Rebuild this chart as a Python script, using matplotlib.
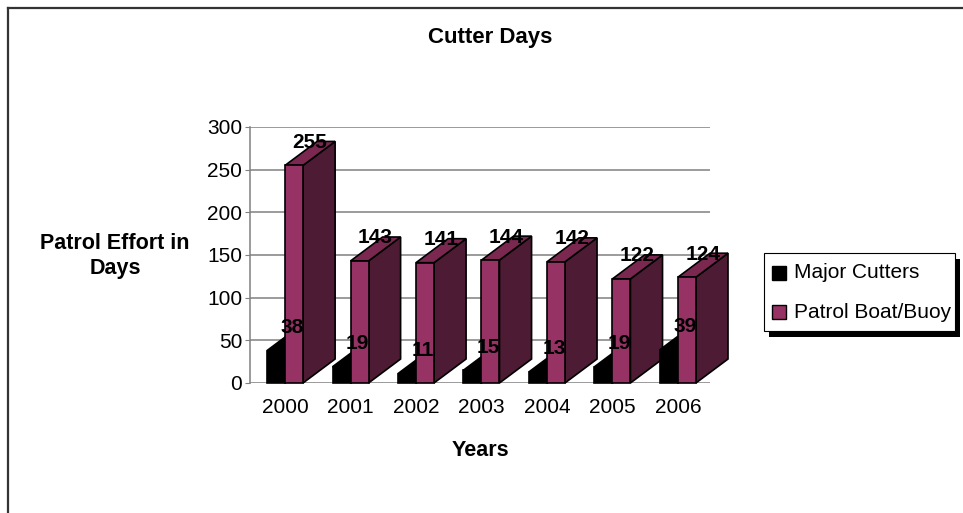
import matplotlib.pyplot as plt
from matplotlib.patches import Polygon, Rectangle
from matplotlib.lines import Line2D

plt.rcParams['font.family'] = ['Liberation Sans', 'DejaVu Sans']

years = ['2000', '2001', '2002', '2003', '2004', '2005', '2006']
major_cutters = [38, 19, 11, 15, 13, 19, 39]
patrol_boat = [255, 143, 141, 144, 142, 122, 124]

W, H = 963, 513
def fx(px):
    return px / W
def fy(py):
    return 1 - py / H

fig = plt.figure(figsize=(W / 100, H / 100), dpi=100)
fig.patch.set_facecolor('white')

# plot area (pixels): x 250..710, y 127..383
ax = fig.add_axes([fx(250), fy(383), fx(710) - fx(250), fy(127) - fy(383)])
ax.set_xlim(-0.535, 6.49)
ax.set_ylim(0, 300)
ax.set_yticks(range(0, 301, 50))
ax.set_xticks(range(len(years)))
ax.set_xticklabels(years)
ax.grid(axis='y', color='#808080', linewidth=1.1)
ax.set_axisbelow(True)
for s in ['top', 'right', 'bottom']:
    ax.spines[s].set_visible(False)
ax.spines['left'].set_color('#808080')
ax.spines['left'].set_linewidth(1.1)
ax.tick_params(axis='y', direction='out', length=3.5, color='#808080',
               labelsize=15, pad=2)
ax.tick_params(axis='x', length=0, labelsize=15, pad=11)

bw = 0.275        # bar width in category units
dx = 0.49         # 3d depth offset (x, category units)
dy = 28.1         # 3d depth offset (y, value units)

def bar3d(x0, v, front, top, side):
    x1 = x0 + bw
    kw = dict(edgecolor='black', linewidth=1.2, clip_on=False, joinstyle='miter')
    ax.add_patch(Polygon([(x1, 0), (x1 + dx, dy), (x1 + dx, v + dy), (x1, v)],
                         facecolor=side, zorder=3, **kw))
    ax.add_patch(Polygon([(x0, v), (x1, v), (x1 + dx, v + dy), (x0 + dx, v + dy)],
                         facecolor=top, zorder=3, **kw))
    ax.add_patch(Polygon([(x0, 0), (x1, 0), (x1, v), (x0, v)],
                         facecolor=front, zorder=3, **kw))

for i in range(len(years)):
    bar3d(i - bw, major_cutters[i], 'black', 'black', 'black')
    bar3d(i, patrol_boat[i], '#963264', '#7a2850', '#4d1b34')

lab_off = 13
for i in range(len(years)):
    ax.text(i - bw / 2 + dx / 2, major_cutters[i] + dy / 2 + lab_off, str(major_cutters[i]),
            ha='center', va='center', fontsize=15, fontweight='bold', zorder=10)
    ax.text(i + bw / 2 + dx / 2, patrol_boat[i] + dy / 2 + lab_off, str(patrol_boat[i]),
            ha='center', va='center', fontsize=15, fontweight='bold', zorder=10)

# titles
fig.text(fx(490), fy(38), 'Cutter Days', ha='center', va='center',
         fontsize=16, fontweight='bold')
fig.text(fx(480), fy(450), 'Years', ha='center', va='center',
         fontsize=15.5, fontweight='bold')
fig.text(fx(115), fy(256), 'Patrol Effort in\nDays', ha='center', va='center',
         fontsize=15.5, fontweight='bold', linespacing=1.3)

# legend (drawn by hand, with shadow)
fig.add_artist(Rectangle((fx(769), fy(337)), fx(955) - fx(764), fy(253) - fy(331),
                         transform=fig.transFigure, facecolor='black', edgecolor='none'))
fig.add_artist(Rectangle((fx(764), fy(331)), fx(955) - fx(764), fy(253) - fy(331),
                         transform=fig.transFigure, facecolor='white',
                         edgecolor='black', linewidth=0.8))
leg_items = [('Major Cutters', 'black', 273), ('Patrol Boat/Buoy', '#963264', 312)]
for name, col, yc in leg_items:
    fig.add_artist(Rectangle((fx(772), fy(yc + 7)), fx(786) - fx(772), fy(yc - 7) - fy(yc + 7),
                             transform=fig.transFigure, facecolor=col,
                             edgecolor='black', linewidth=1))
    fig.text(fx(794), fy(yc), name, ha='left', va='center', fontsize=15)

# chart border (left and top edges visible)
fig.add_artist(Line2D([fx(8), fx(8)], [0, fy(7.5)], color='#333333', linewidth=1.6,
                      transform=fig.transFigure))
fig.add_artist(Line2D([fx(8), 1], [fy(7.5), fy(7.5)], color='#333333', linewidth=1.6,
                      transform=fig.transFigure))

fig.savefig('out.png', dpi=100)
